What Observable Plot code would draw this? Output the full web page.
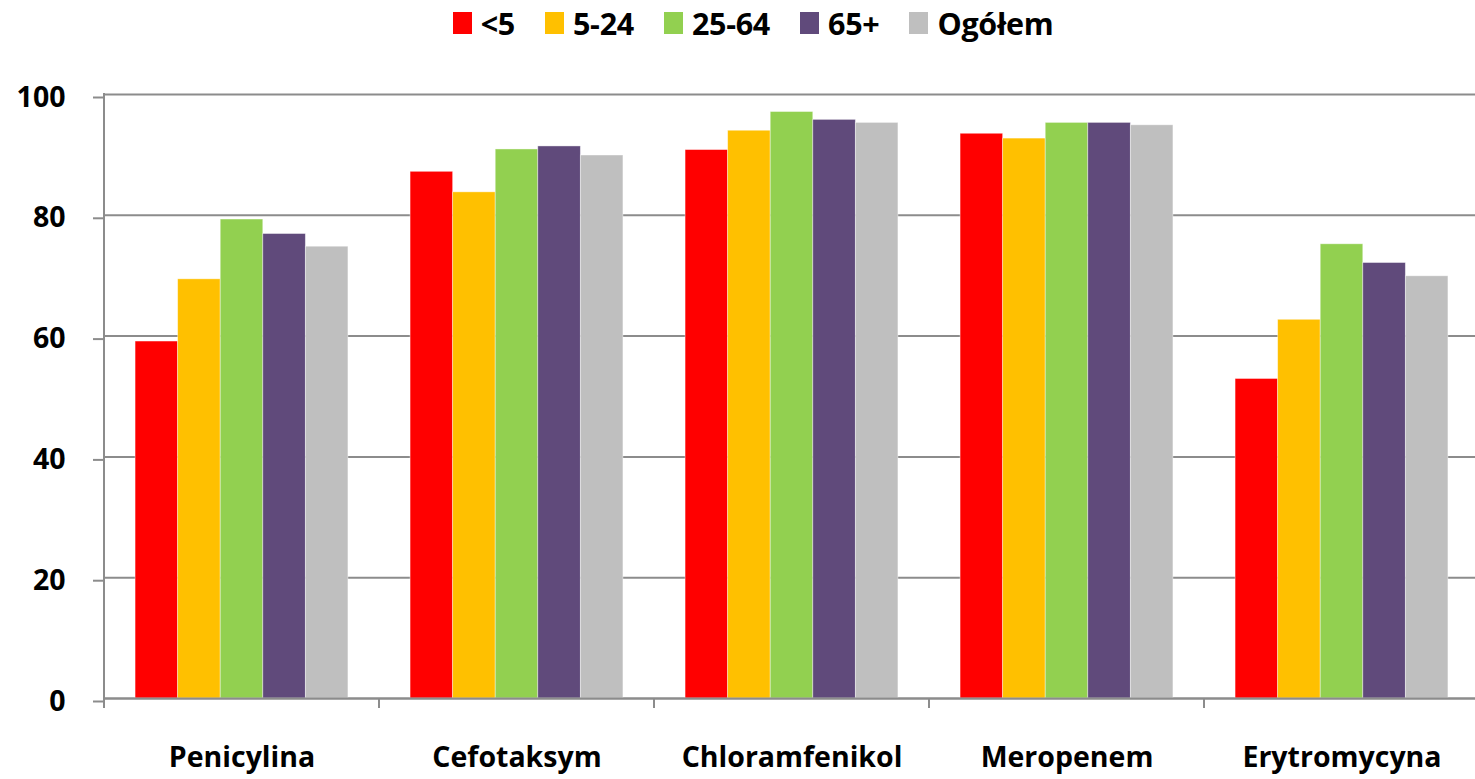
<!DOCTYPE html>
<html>
<head>
<meta charset="utf-8">
<script src="https://cdn.jsdelivr.net/npm/d3@7"></script>
<script src="https://cdn.jsdelivr.net/npm/@observablehq/plot@0.6"></script>
<style>
  html, body { margin: 0; padding: 0; background: #fff; overflow: hidden; }
  body { width: 1475px; height: 779px; font-family: "Open Sans", Lato, sans-serif; }
  #legend { height: 46px; display: flex; justify-content: center; align-items: center; padding-left: 31px; font-weight: bold; font-size: 30.5px; color: #000; letter-spacing: -0.3px; }
  .item { display: flex; align-items: center; margin: 0 15px; }
  .sw { width: 19px; height: 22px; margin-right: 9px; }
  #chart svg { display: block; max-width: none; }
</style>
</head>
<body>
<div id="legend"></div>
<div id="chart"></div>
<script>
const drugs = ["Penicylina", "Cefotaksym", "Chloramfenikol", "Meropenem", "Erytromycyna"];
const groups = ["<5", "5-24", "25-64", "65+", "Ogółem"];
const colors = ["#FF0000", "#FFC000", "#92D050", "#604A7B", "#BFBFBF"];
const valuesLt5   = [59.1, 87.2, 90.8, 93.5, 52.9];
const values5_24  = [69.4, 83.8, 94.0, 92.7, 62.7];
const values25_64 = [79.3, 90.9, 97.1, 95.3, 75.2];
const values65    = [76.9, 91.4, 95.8, 95.3, 72.1];
const valuesAll   = [74.8, 89.9, 95.3, 94.9, 69.9];
const yTicks = [0, 20, 40, 60, 80, 100];

const series = [valuesLt5, values5_24, values25_64, values65, valuesAll];
const data = [];
drugs.forEach((d, i) => series.forEach((s, j) => data.push({drug: d, group: groups[j], value: s[i]})));

// legend
const legend = document.getElementById("legend");
groups.forEach((g, j) => {
  const it = document.createElement("div");
  it.className = "item";
  const sw = document.createElement("div");
  sw.className = "sw";
  sw.style.background = colors[j];
  const tx = document.createElement("span");
  tx.textContent = g;
  it.appendChild(sw); it.appendChild(tx);
  legend.appendChild(it);
});

const gridColor = "#8c8c8c";
const font = "'Open Sans', Lato, sans-serif";

const chart = Plot.plot({
  width: 1475,
  height: 733,
  marginLeft: 103,
  marginRight: -5,
  marginTop: 48,
  marginBottom: 81,
  style: {fontFamily: font, fontWeight: "bold", fontSize: "28.5px", color: "#000", background: "#fff", overflow: "visible"},
  fx: {domain: drugs, padding: 0, label: null},
  x: {domain: groups, paddingInner: 0, paddingOuter: 0.73, round: false, axis: null},
  y: {domain: [0, 100], label: null},
  color: {domain: groups, range: colors},
  marks: [
    Plot.gridY(yTicks, {stroke: gridColor, strokeOpacity: 1, strokeWidth: 2}),
    Plot.barY(data, {fx: "drug", x: "group", y: "value", fill: "group", stroke: "#ffffff", strokeOpacity: 0.5, strokeWidth: 0.8}),
    Plot.ruleY([0], {stroke: gridColor, strokeWidth: 2}),
    Plot.axisY(yTicks, {tickSize: 11, tickPadding: 28, stroke: gridColor, strokeWidth: 2, strokeOpacity: 1, fill: "#000", fontSize: 28.5, fontWeight: "bold", dy: 3, label: null}),
    Plot.axisFx({anchor: "bottom", tickSize: 0, tickPadding: 48, fontSize: 28.5, fontWeight: "bold", fill: "#000", label: null})
  ]
});

// axis line and category boundary ticks, positioned with the plot's own scales
const fx = chart.scale("fx"), ys = chart.scale("y");
const y0 = ys.apply(0), y100 = ys.apply(100);
const g = d3.select(chart).append("g").attr("stroke", gridColor).attr("stroke-width", 2).attr("fill", "none");
const xStart = fx.apply(drugs[0]);
g.append("line").attr("x1", xStart).attr("x2", xStart).attr("y1", y100 - 1).attr("y2", y0 + 10);
drugs.forEach((d, i) => {
  if (i === 0) return;
  const x = fx.apply(d);
  g.append("line").attr("x1", x).attr("x2", x).attr("y1", y0).attr("y2", y0 + 10);
});

document.getElementById("chart").appendChild(chart);
</script>
</body>
</html>
